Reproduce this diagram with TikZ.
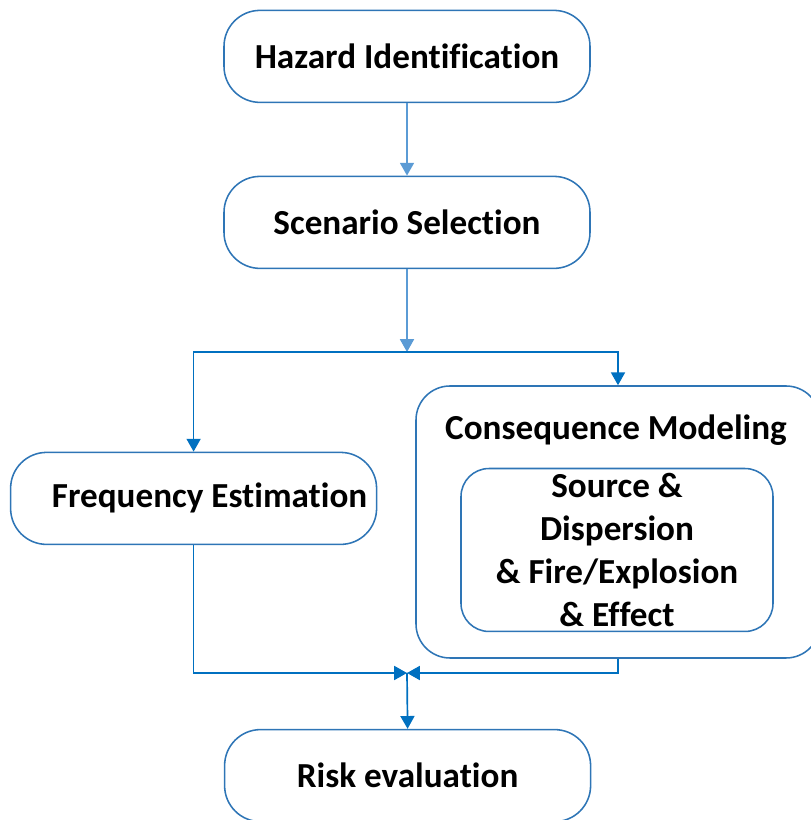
\documentclass[tikz,border=0pt]{standalone}
\usepackage{fontspec}
\setmainfont{Carlito}[Ligatures=NoCommon]
\usetikzlibrary{arrows.meta}

\definecolor{boxblue}{HTML}{2E75B6}
\definecolor{lineblue}{HTML}{0070C0}
\definecolor{paleblue}{HTML}{5B9BD5}

\tikzset{
  stage/.style={draw=boxblue, line width=1.1pt, rounded corners=0.9cm,
    minimum width=9.15cm, minimum height=2.3cm, align=center,
    font=\fontsize{25}{30.6}\selectfont\bfseries},
  flow/.style={draw=lineblue, line width=1.2pt,
    -{Triangle[width=0.35cm, length=0.32cm]}},
  paleflow/.style={flow, draw=paleblue},
}

\begin{document}
\begin{tikzpicture}

  \useasboundingbox (0,0) rectangle (20.25,20.5);

  % main stages
  \node[stage] (haz)  at (10.175,19.09) {Hazard Identification};
  \node[stage] (scen) at (10.175,14.94) {Scenario Selection};
  \node[stage] (freq) at (4.84,8.04)    {\hspace*{0.8cm}Frequency Estimation};
  \node[stage] (risk) at (10.19,1.11)   {Risk evaluation};

  % consequence block with inner box
  \node[stage, minimum width=10.1cm, minimum height=6.8cm, rounded corners=0.85cm]
      (cons) at (15.45,7.45) {};
  \node[font=\fontsize{25}{30.6}\selectfont\bfseries] (consT) at (15.4,9.75)
      {Consequence Modeling};
  \node[stage, minimum width=7.8cm, minimum height=4cm, rounded corners=0.7cm]
      (src) at (15.425,6.75) {Source \&\\Dispersion\\\& Fire/Explosion\\\& Effect};

  % branch and merge points
  \coordinate (split) at (10.175,11.7);
  \coordinate (merge) at (10.175,3.675);

  % ---- connectors ----
  \draw[paleflow] (haz.south) -- (scen.north);
  \draw[paleflow] (scen.south) -- (split);
  \draw[flow] (split) -| (freq.north);
  \draw[flow] (split) -| (cons.north);
  \draw[flow] (freq.south) |- (merge);
  \draw[flow] (cons.south) |- (merge);
  \draw[flow] (merge) -- (risk.north);

\end{tikzpicture}
\end{document}
